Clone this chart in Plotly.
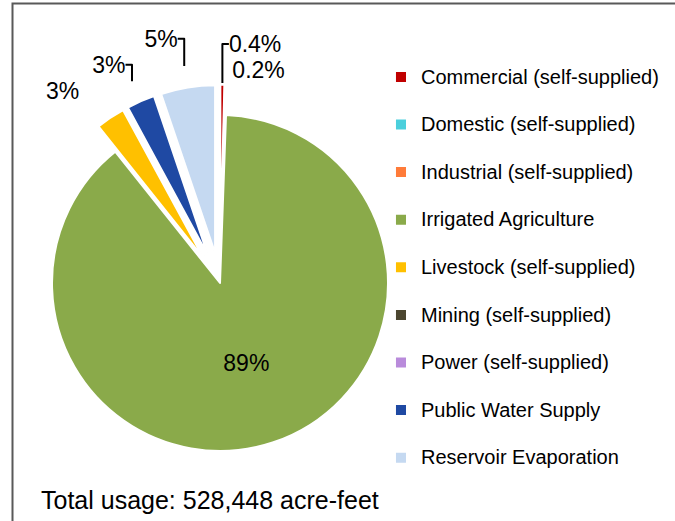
import plotly.graph_objects as go

categories = [
    "Commercial (self-supplied)",
    "Domestic (self-supplied)",
    "Industrial (self-supplied)",
    "Irrigated Agriculture",
    "Livestock (self-supplied)",
    "Mining (self-supplied)",
    "Power (self-supplied)",
    "Public Water Supply",
    "Reservoir Evaporation",
]
share_pct = [0.38, 0.17, 0.02, 88.71, 2.8, 0.01, 0.01, 2.7, 5.2]
slice_labels = ["0.4%", "0.2%", "", "89%", "3%", "", "", "3%", "5%"]
colors = ["#C00000", "#4BCFDC", "#FF7B39", "#8AAA4A", "#FFC000",
          "#4C4630", "#B98BDB", "#1F49A3", "#C5D9F1"]
pulls = [0.18, 0.18, 0.18, 0.0, 0.18, 0.18, 0.18, 0.18, 0.18]
# styling: trailing non-breaking-space padding that nudges an outside label outward
label_pad = [0, 0, 0, 0, 2, 0, 0, 0, 0]
total_text = "Total usage: 528,448 acre-feet"

W, H = 675, 521
FONT = "Liberation Sans, Arial, sans-serif"

legend_labels = ["<span style='font-size:20px'>%s</span><br> " % c for c in categories]
padded = [t + "\u00a0" * p if t else t for t, p in zip(slice_labels, label_pad)]

# cumulative start fraction of each slice (clockwise from 12 o'clock)
starts = []
acc = 0.0
tot = sum(share_pct)
for v in share_pct:
    starts.append(acc / tot)
    acc += v
mids = [s + v / tot / 2 for s, v in zip(starts, share_pct)]

inner_pos = ["inside" if v > 50 else "none" for v in share_pct]
left_pos = ["outside" if (t and v < 50 and m > 0.5) else "none"
            for t, v, m in zip(slice_labels, share_pct, mids)]
right_pos = ["outside" if (t and v < 50 and m <= 0.5) else "none"
             for t, v, m in zip(slice_labels, share_pct, mids)]

cx_px, cy_px, r_px = 220.0, 283.0, 168.0


def dom(half):
    return dict(x=[(cx_px - half) / W, (cx_px + half) / W],
                y=[(H - cy_px - half) / H, (H - cy_px + half) / H])


txtfont = dict(family=FONT, size=23, color="black")
clear = ["rgba(0,0,0,0)"] * len(categories)

fig = go.Figure()
fig.add_trace(go.Pie(
    labels=legend_labels,
    values=share_pct,
    text=slice_labels,
    textinfo="text",
    textposition=inner_pos,
    sort=False,
    direction="clockwise",
    rotation=0,
    pull=pulls,
    marker=dict(colors=colors, line=dict(color="white", width=2)),
    textfont=txtfont, insidetextfont=txtfont,
    domain=dom(r_px * (1 + max(pulls))),
    hoverinfo="label+percent",
))
for pos, half in ((left_pos, 220.0), (right_pos, 200.0)):
    fig.add_trace(go.Pie(
        labels=categories,
        values=share_pct,
        text=padded,
        textinfo="text",
        textposition=pos,
        sort=False,
        direction="clockwise",
        rotation=0,
        marker=dict(colors=clear, line=dict(width=0)),
        textfont=txtfont, outsidetextfont=txtfont,
        domain=dom(half),
        showlegend=False,
        hoverinfo="skip",
    ))

fig.update_layout(
    width=W, height=H,
    margin=dict(l=0, r=0, t=0, b=0, autoexpand=False),
    paper_bgcolor="white",
    plot_bgcolor="white",
    font=dict(family=FONT, color="black"),
    showlegend=True,
    legend=dict(
        x=0.5644, xanchor="left",
        y=0.8862, yanchor="top",
        font=dict(family=FONT, size=17.15, color="black"),
        valign="top",
        bgcolor="rgba(0,0,0,0)",
    ),
    shapes=[dict(type="rect", xref="paper", yref="paper",
                 x0=12.5 / W, x1=1.01, y0=-0.01, y1=1 - 3.5 / H,
                 line=dict(color="#595959", width=2))],
    annotations=[dict(text=total_text, xref="paper", yref="paper",
                      x=39 / W, y=(H - 500) / H, xanchor="left", yanchor="middle",
                      showarrow=False,
                      font=dict(family=FONT, size=25, color="black"))],
)

fig.write_html("out.html")
